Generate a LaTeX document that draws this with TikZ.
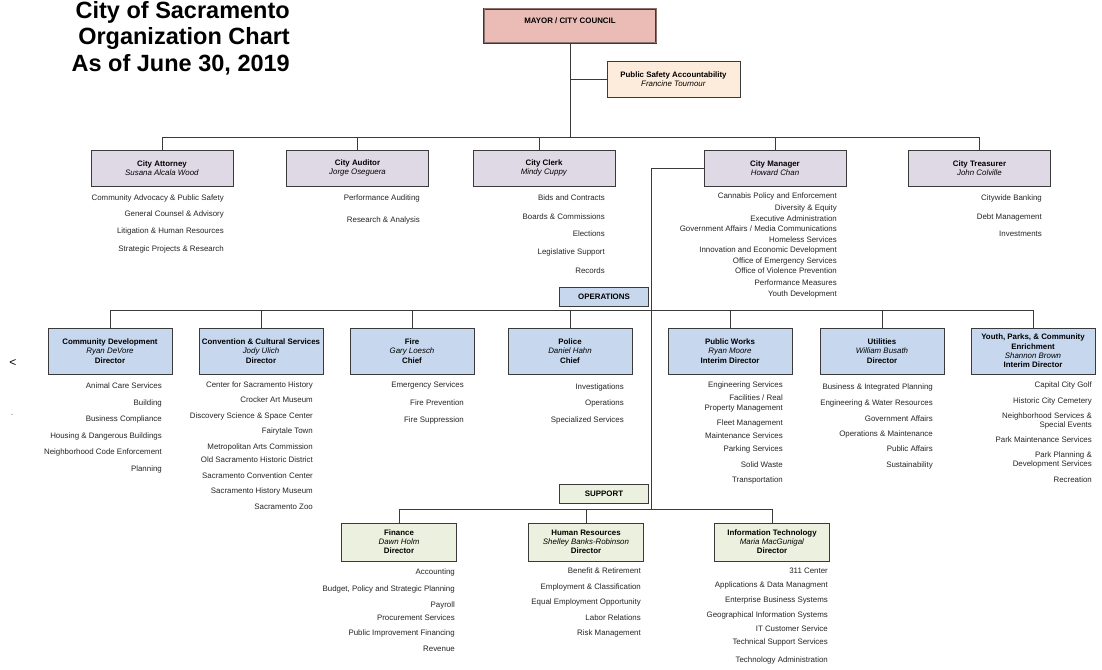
\documentclass[tikz,border=0pt]{standalone}
\usepackage{fontspec}
\setmainfont{Liberation Sans}
\definecolor{mayorpink}{HTML}{EABCB5}
\definecolor{psapeach}{HTML}{FDEBDC}
\definecolor{lavbox}{HTML}{DFD9E6}
\definecolor{opblue}{HTML}{C6D7EE}
\definecolor{supgreen}{HTML}{EBF1DE}
\definecolor{lineclr}{HTML}{3A3A3A}
\newcommand\mylist[3]{%
  \foreach \yv/\tv [count=\ii] in {#3} {\node[lst] (#1\ii) at (#2,\yv) {\tv};}%
}
\begin{document}
\begin{tikzpicture}[x=1pt,y=-1pt,
  conn/.style={draw=lineclr, line width=0.9pt},
  box/.style={draw=lineclr, line width=1pt, rectangle, inner sep=0pt, align=center,
    font=\fontsize{7.9}{9}\selectfont},
  rowone/.style={box, fill=lavbox, minimum width=142pt, minimum height=36pt},
  rowtwo/.style={box, fill=opblue, minimum width=124pt, minimum height=46pt,
    font=\fontsize{7.9}{9.4}\selectfont},
  rowthree/.style={box, fill=supgreen, minimum width=115pt, minimum height=38pt},
  lbl/.style={box, minimum width=89pt, minimum height=19pt, font=\fontsize{7.9}{9}\selectfont\bfseries},
  lst/.style={anchor=east, inner sep=0pt, font=\fontsize{7.9}{9}\selectfont, text=black!85,
    text height=5.7pt, text depth=1.6pt},
  ttl/.style={anchor=base east, inner sep=0pt, font=\fontsize{23.5}{26}\selectfont\bfseries},
]
\fill[white] (0,0) rectangle (1102,669);
\useasboundingbox (0,0) rectangle (1102,669);

% title
\node[ttl] (t1) at (290,18.5) {City of Sacramento};
\node[ttl] (t2) at (290,45) {Organization Chart};
\node[ttl] (t3) at (290,71.5) {As of June 30, 2019};

% stray marks
\node[inner sep=0pt, font=\fontsize{12}{12}\selectfont] (lt) at (13,363) {<};
\node[inner sep=0pt, font=\fontsize{7}{7}\selectfont] (dot) at (12,415) {.};

% top
\node[box, fill=mayorpink, minimum width=172pt, minimum height=34pt, double=mayorpink!60!black, double distance=1pt, line width=0.8pt] (mayor) at (570,26) {};
\node[inner sep=0pt, font=\fontsize{7.9}{9}\selectfont\bfseries] (mayortxt) at (570,21) {MAYOR / CITY COUNCIL};
\node[box, fill=psapeach, minimum width=133pt, minimum height=35pt] (psa) at (673.5,79.5)
  {\textbf{Public Safety Accountability}\\\textit{Francine Tournour}};
\coordinate (bus) at (570,137);

% row one
\node[rowone] (att) at (162,168) {\textbf{City Attorney}\\\textit{Susana Alcala Wood}};
\node[rowone] (aud) at (357.5,168) {\textbf{City Auditor}\\\textit{Jorge Oseguera}};
\node[rowone] (clk) at (544,168) {\textbf{City Clerk}\\\textit{Mindy Cuppy}};
\node[rowone] (mgr) at (775,168) {\textbf{City Manager}\\\textit{Howard Chan}};
\node[rowone] (trs) at (979.5,168) {\textbf{City Treasurer}\\\textit{John Colville}};

\mylist{la}{224}{198/Community Advocacy \& Public Safety, 214/General Counsel \& Advisory, 231/Litigation \& Human Resources, 249/Strategic Projects \& Research}
\mylist{lb}{420}{198/Performance Auditing, 220/Research \& Analysis}
\mylist{lc}{605}{198/Bids and Contracts, 217/Boards \& Commissions, 234/Elections, 252/Legislative Support, 271/Records}
\mylist{lm}{837}{196/Cannabis Policy and Enforcement, 208/Diversity \& Equity, 219/Executive Administration, 229/{Government Affairs / Media Communications}, 240/Homeless Services, 250/Innovation and Economic Development, 261/Office of Emergency Services, 271/Office of Violence Prevention, 283/Performance Measures, 294/Youth Development}
\mylist{lt}{1042}{198/Citywide Banking, 217/Debt Management, 234/Investments}

% operations
\node[lbl, fill=opblue] (ops) at (604,296.5) {OPERATIONS};
\coordinate (obus) at (651,310);
\node[rowtwo] (cd) at (110,351) {\textbf{Community Development}\\\textit{Ryan DeVore}\\\textbf{Director}};
\node[rowtwo] (cv) at (261,351) {\textbf{Convention \& Cultural Services}\\\textit{Jody Ulich}\\\textbf{Director}};
\node[rowtwo] (fi) at (412,351) {\textbf{Fire}\\\textit{Gary Loesch}\\\textbf{Chief}};
\node[rowtwo] (po) at (570,351) {\textbf{Police}\\\textit{Daniel Hahn}\\\textbf{Chief}};
\node[rowtwo] (pw) at (730,351) {\textbf{Public Works}\\\textit{Ryan Moore}\\\textbf{Interim Director}};
\node[rowtwo] (ut) at (882,351) {\textbf{Utilities}\\\textit{William Busath}\\\textbf{Director}};
\node[rowtwo] (yo) at (1033,351) {\textbf{Youth, Parks, \& Community}\\\textbf{Enrichment}\\\textit{Shannon Brown}\\\textbf{Interim Director}};

\mylist{ma}{162}{386/Animal Care Services, 403/Building, 419/Business Compliance, 436/Housing \& Dangerous Buildings, 452/Neighborhood Code Enforcement, 469/Planning}
\mylist{mb}{313}{385/Center for Sacramento History, 400/Crocker Art Museum, 416/Discovery Science \& Space Center, 431/Fairytale Town, 447/Metropolitan Arts Commission, 460/Old Sacramento Historic District, 476/Sacramento Convention Center, 491/Sacramento History Museum, 507/Sacramento Zoo}
\mylist{mc}{464}{385/Emergency Services, 403/Fire Prevention, 420/Fire Suppression}
\mylist{md}{624}{387/Investigations, 403/Operations, 420/Specialized Services}
\mylist{me}{783}{385/Engineering Services, 398/{Facilities / Real}, 408/Property Management, 423/Fleet Management, 436/Maintenance Services, 449/Parking Services, 465/Solid Waste, 480/Transportation}
\mylist{mf}{933}{387/Business \& Integrated Planning, 403/Engineering \& Water Resources, 419/Government Affairs, 434/Operations \& Maintenance, 449/Public Affairs, 465/Sustainability}
\mylist{mg}{1092}{385/Capital City Golf, 401/Historic City Cemetery, 416/Neighborhood Services \&, 425/Special Events, 440/Park Maintenance Services, 455/Park Planning \&, 464/Development Services, 480/Recreation}

% support
\node[lbl, fill=supgreen] (sup) at (604,493.5) {SUPPORT};
\coordinate (sbus) at (651,509);
\node[rowthree] (fn) at (399,542) {\textbf{Finance}\\\textit{Dawn Holm}\\\textbf{Director}};
\node[rowthree] (hr) at (586,542) {\textbf{Human Resources}\\\textit{Shelley Banks-Robinson}\\\textbf{Director}};
\node[rowthree] (it) at (772,542) {\textbf{Information Technology}\\\textit{Maria MacGunigal}\\\textbf{Director}};

\mylist{na}{455}{572/Accounting, 589/{Budget, Policy and Strategic Planning}, 605/Payroll, 618/Procurement Services, 633/Public Improvement Financing, 649/Revenue}
\mylist{nb}{641}{571/Benefit \& Retirement, 587/Employment \& Classification, 602/Equal Employment Opportunity, 618/Labor Relations, 633/Risk Management}
\mylist{nc}{828}{571/311 Center, 585/Applications \& Data Managment, 600/Enterprise Business Systems, 615/Geographical Information Systems, 629/IT Customer Service, 642/Technical Support Services, 660/Technology Administration}

% connectors
\draw[conn] (mayor.south) -- (bus);
\draw[conn] (psa.west) -- (psa.west -| bus);
\draw[conn] (att.north) -- (att.north |- bus) -| (trs.north);
\draw[conn] (aud.north) -- (aud.north |- bus);
\draw[conn] ([xshift=-5pt]clk.north) -- ([xshift=-5pt]clk.north |- bus);
\draw[conn] (mgr.north) -- (mgr.north |- bus);
\draw[conn] (mgr.west) -| (sbus);
\draw[conn] (cd.north) -- (cd.north |- obus) -| (yo.north);
\foreach \n in {cv,fi,po,pw,ut} {\draw[conn] (\n.north) -- (\n.north |- obus);}
\draw[conn] (fn.north) -- (fn.north |- sbus) -| (it.north);
\draw[conn] (hr.north) -- (hr.north |- sbus);
\end{tikzpicture}
\end{document}
